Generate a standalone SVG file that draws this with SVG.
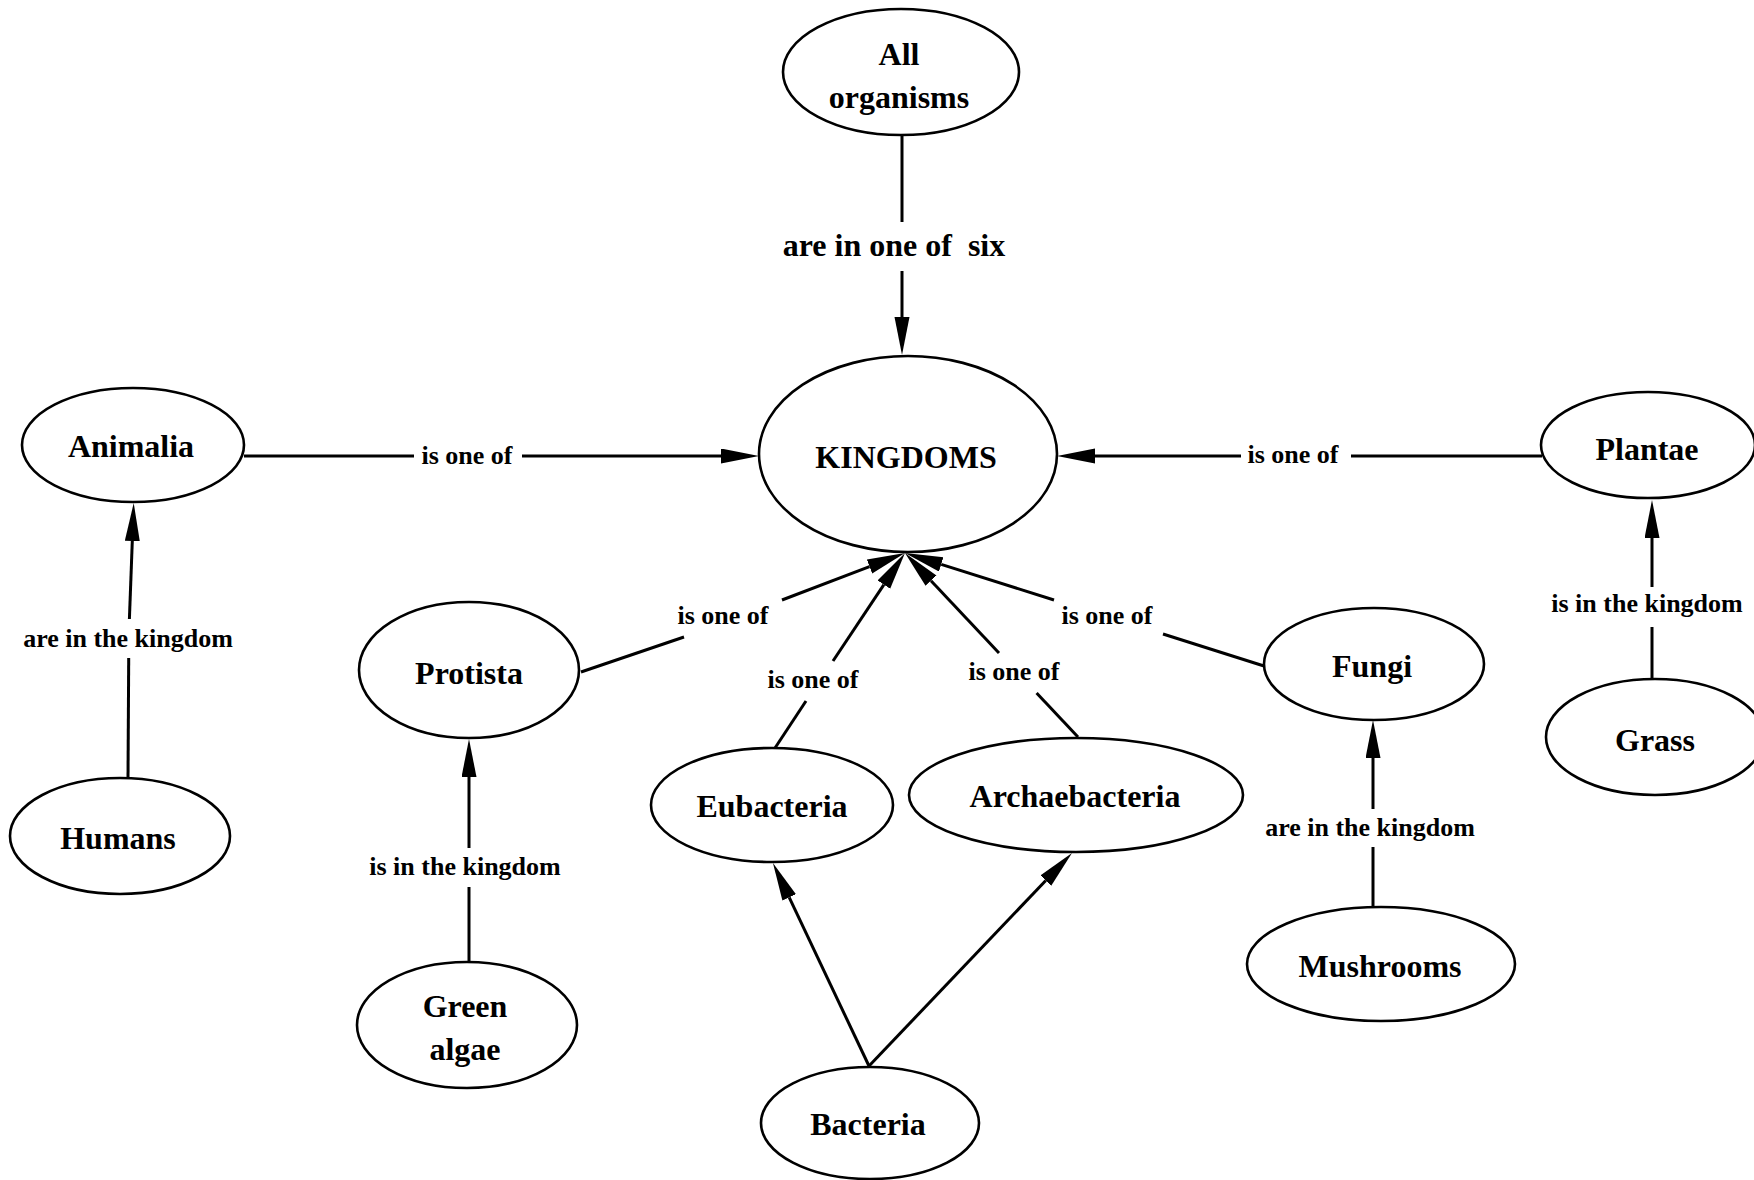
<svg xmlns="http://www.w3.org/2000/svg" width="1754" height="1180" viewBox="0 0 1754 1180">
  <style>
    .node ellipse { fill: #ffffff; stroke: #000000; stroke-width: 2.6; }
    .node text { font-family: "Liberation Serif", "Times New Roman", serif; font-weight: bold; font-size: 32px; text-anchor: middle; fill: #000000; }
    .edge line { stroke: #000000; stroke-width: 3; fill: none; }
    .edge line.arrow { marker-end: url(#head); }
    .lbl { font-family: "Liberation Serif", "Times New Roman", serif; font-weight: bold; font-size: 26px; text-anchor: middle; fill: #000000; }
    .lbl.big { font-size: 32px; white-space: pre; }
  </style>
  <defs>
    <marker id="head" markerUnits="userSpaceOnUse" markerWidth="40" markerHeight="16" refX="0" refY="7.5" orient="auto">
      <path d="M0,0 L38,7.5 L0,15 z" fill="#000000"/>
    </marker>
  </defs>
  <rect width="1754" height="1180" fill="#ffffff"/>

  <!-- connectors: each one is split around its label -->
  <g id="connectors" class="edge">
    <!-- All organisms -> KINGDOMS -->
    <line x1="902" y1="136" x2="902" y2="222"/>
    <line class="arrow" x1="902" y1="271" x2="902" y2="317"/>
    <!-- Animalia -> KINGDOMS -->
    <line x1="244" y1="456" x2="414" y2="456"/>
    <line class="arrow" x1="522" y1="456" x2="721" y2="456"/>
    <!-- Plantae -> KINGDOMS -->
    <line x1="1542" y1="456" x2="1351" y2="456"/>
    <line class="arrow" x1="1241" y1="456" x2="1095" y2="456"/>
    <!-- Humans -> Animalia -->
    <line x1="128" y1="778" x2="128.7" y2="658"/>
    <line class="arrow" x1="129.4" y1="619" x2="132.3" y2="541"/>
    <!-- Protista -> KINGDOMS -->
    <line x1="581" y1="672" x2="684" y2="637"/>
    <line class="arrow" x1="782" y1="600" x2="869.5" y2="566.6"/>
    <!-- Eubacteria -> KINGDOMS -->
    <line x1="775" y1="748" x2="806" y2="701"/>
    <line class="arrow" x1="833" y1="661" x2="883.9" y2="584.6"/>
    <!-- Archaebacteria -> KINGDOMS -->
    <line x1="1078" y1="737" x2="1036.6" y2="693"/>
    <line class="arrow" x1="999" y1="653" x2="931" y2="580.7"/>
    <!-- Fungi -> KINGDOMS -->
    <line x1="1264" y1="666" x2="1163" y2="634"/>
    <line class="arrow" x1="1054" y1="600" x2="941.2" y2="564.4"/>
    <!-- Green algae -> Protista -->
    <line x1="469" y1="962" x2="469" y2="887"/>
    <line class="arrow" x1="469" y1="848" x2="469" y2="777"/>
    <!-- Bacteria -> Eubacteria -->
    <line class="arrow" x1="869" y1="1066" x2="789.2" y2="897.4"/>
    <!-- Bacteria -> Archaebacteria -->
    <line class="arrow" x1="869" y1="1066" x2="1045.8" y2="880.5"/>
    <!-- Mushrooms -> Fungi -->
    <line x1="1373" y1="907" x2="1373" y2="847"/>
    <line class="arrow" x1="1373" y1="809" x2="1373" y2="758"/>
    <!-- Grass -> Plantae -->
    <line x1="1652" y1="678" x2="1652" y2="627"/>
    <line class="arrow" x1="1652" y1="587" x2="1652" y2="538"/>

    <!-- connector labels -->
    <text class="lbl big" x="894" y="256">are in one of  six</text>
    <text class="lbl" x="467" y="464">is one of</text>
    <text class="lbl" x="1293" y="463">is one of</text>
    <text class="lbl" x="128" y="647">are in the kingdom</text>
    <text class="lbl" x="723" y="624">is one of</text>
    <text class="lbl" x="813" y="688">is one of</text>
    <text class="lbl" x="1014" y="680">is one of</text>
    <text class="lbl" x="1107" y="624">is one of</text>
    <text class="lbl" x="465" y="875">is in the kingdom</text>
    <text class="lbl" x="1370" y="836">are in the kingdom</text>
    <text class="lbl" x="1647" y="612">is in the kingdom</text>
  </g>

  <g id="all-organisms" class="node">
    <ellipse cx="901" cy="72" rx="118" ry="63"/>
    <text x="899" y="65">All</text>
    <text x="899" y="108">organisms</text>
  </g>
  <g id="kingdoms" class="node">
    <ellipse cx="908" cy="454" rx="149" ry="98"/>
    <text x="906" y="468">KINGDOMS</text>
  </g>
  <g id="animalia" class="node">
    <ellipse cx="133" cy="445" rx="111" ry="57"/>
    <text x="131" y="457">Animalia</text>
  </g>
  <g id="humans" class="node">
    <ellipse cx="120" cy="836" rx="110" ry="58"/>
    <text x="118" y="849">Humans</text>
  </g>
  <g id="plantae" class="node">
    <ellipse cx="1648" cy="445" rx="107" ry="53"/>
    <text x="1647" y="460">Plantae</text>
  </g>
  <g id="grass" class="node">
    <ellipse cx="1655" cy="737" rx="109" ry="58"/>
    <text x="1655" y="751">Grass</text>
  </g>
  <g id="protista" class="node">
    <ellipse cx="469" cy="670" rx="110" ry="68"/>
    <text x="469" y="684">Protista</text>
  </g>
  <g id="eubacteria" class="node">
    <ellipse cx="772" cy="805" rx="121" ry="57"/>
    <text x="772" y="817">Eubacteria</text>
  </g>
  <g id="archaebacteria" class="node">
    <ellipse cx="1076" cy="795" rx="167" ry="57"/>
    <text x="1075" y="807">Archaebacteria</text>
  </g>
  <g id="fungi" class="node">
    <ellipse cx="1374" cy="664" rx="110" ry="56"/>
    <text x="1372" y="677">Fungi</text>
  </g>
  <g id="mushrooms" class="node">
    <ellipse cx="1381" cy="964" rx="134" ry="57"/>
    <text x="1380" y="977">Mushrooms</text>
  </g>
  <g id="green-algae" class="node">
    <ellipse cx="467" cy="1025" rx="110" ry="63"/>
    <text x="465" y="1017">Green</text>
    <text x="465" y="1060">algae</text>
  </g>
  <g id="bacteria" class="node">
    <ellipse cx="870" cy="1123" rx="109" ry="56"/>
    <text x="868" y="1135">Bacteria</text>
  </g>
</svg>
